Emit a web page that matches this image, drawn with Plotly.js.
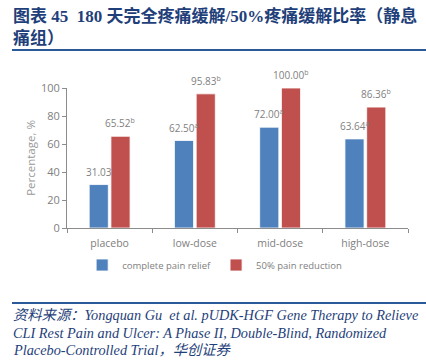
<!DOCTYPE html>
<html><head><meta charset="utf-8">
<script src="https://cdn.plot.ly/plotly-3.0.1.min.js"></script>
<style>html,body{margin:0;padding:0;background:#fff}#c{width:426px;height:364px}</style>
</head><body><div id="c"></div>
<script>
var categories = ['placebo', 'low-dose', 'mid-dose', 'high-dose'];
var completeRelief = [31.03, 62.50, 72.00, 63.64];
var completeSup = ['', 'a', 'a', 'a'];
var halfReduction = [65.52, 95.83, 100.00, 86.36];
var halfSup = ['b', 'b', 'b', 'b'];
var seriesNames = ['complete pain relief', '50% pain reduction'];
var yTicks = [0, 20, 40, 60, 80, 100];
var titleLines = ['<b>图表 45  180 天完全疼痛缓解/50%疼痛缓解比率（静息</b>', '<b>痛组）</b>'];
var sourceLines = ['<i>资料来源：Yongquan Gu  et al. pUDK-HGF Gene Therapy to Relieve</i>',
                   '<i>CLI Rest Pain and Ulcer: A Phase II, Double-Blind, Randomized</i>',
                   '<i>Placebo-Controlled Trial，华创证券</i>'];

function lbl(v, s) {
  return v.toFixed(2) + (s ? '<sup>' + s + '</sup>' : '');
}
var gray = '#808080';
var lblFont = {color: '#7f7f7f', size: 10, family: 'Open Sans, sans-serif'};
var traces = [
  {type: 'bar', name: seriesNames[0], x: categories, y: completeRelief,
   marker: {color: '#4F81BD', line: {color: '#ffffff', width: 0.8}}},
  {type: 'bar', name: seriesNames[1], x: categories, y: halfReduction,
   marker: {color: '#C0504D', line: {color: '#ffffff', width: 0.8}}}
];
var navy = '#1F3F7A';
var titleFont = {family: 'Liberation Serif, Noto Sans CJK SC, serif', size: 17, color: navy};
var srcFont = {family: 'Liberation Serif, Noto Sans CJK SC, serif', size: 14.3, color: navy};
var plotW = 341, bargap = 0.49;
var barShift = (plotW / categories.length) * (1 - bargap) / 4;
function py(p) { return (228 - p) / 140; }
var annotations = [];
categories.forEach(function (c, i) {
  annotations.push({x: c, y: completeRelief[i], xref: 'x', yref: 'y', xshift: -barShift, yshift: 4,
    yanchor: 'bottom', showarrow: false, font: lblFont, text: lbl(completeRelief[i], completeSup[i])});
  annotations.push({x: c, y: halfReduction[i], xref: 'x', yref: 'y', xshift: barShift, yshift: 4,
    yanchor: 'bottom', showarrow: false, font: lblFont, text: lbl(halfReduction[i], halfSup[i])});
});
titleLines.forEach(function (t, i) {
  annotations.push({xref: 'paper', yref: 'paper', x: -56/341, y: py([16, 38][i]), xanchor: 'left', yanchor: 'middle',
    showarrow: false, font: titleFont, text: t});
});
sourceLines.forEach(function (t, i) {
  annotations.push({xref: 'paper', yref: 'paper', x: -56/341, y: py([315, 332.5, 350][i]), xanchor: 'left', yanchor: 'middle',
    showarrow: false, font: srcFont, text: t});
});
var layout = {
  width: 426, height: 364,
  margin: {l: 67, r: 18, t: 88, b: 136},
  paper_bgcolor: '#fff', plot_bgcolor: '#fff',
  barmode: 'group', bargap: bargap, bargroupgap: 0.12,
  showlegend: true,
  legend: {orientation: 'h', x: 0.433, xanchor: 'center', y: py(265), yanchor: 'middle',
           font: {size: 9.5, color: gray, family: 'Open Sans, sans-serif'}, itemwidth: 30, traceorder: 'normal'},
  xaxis: {showline: true, linecolor: '#8c8c8c', linewidth: 1, ticks: 'outside', tickson: 'boundaries',
          ticklen: 4, tickcolor: '#8c8c8c', ticklabelstandoff: 5,
          tickfont: {size: 10.5, color: gray, family: 'Open Sans, sans-serif'},
          showgrid: false, zeroline: false},
  yaxis: {range: [0, 100], tickvals: yTicks, showline: true, linecolor: '#8c8c8c', linewidth: 1,
          ticks: 'outside', ticklen: 4, tickcolor: '#8c8c8c', showgrid: false, zeroline: false,
          tickfont: {size: 11, color: gray, family: 'Open Sans, sans-serif'},
          title: {text: 'Percentage, %', font: {size: 11.5, color: '#999999', family: 'Open Sans, sans-serif'}, standoff: 2}},
  annotations: annotations,
  shapes: [
    {type: 'line', xref: 'paper', yref: 'paper', x0: -55/341, x1: 359/341, y0: py(50), y1: py(50),
     line: {color: '#2A5A9A', width: 2}},
    {type: 'line', xref: 'paper', yref: 'paper', x0: -55/341, x1: 359/341, y0: py(303), y1: py(303),
     line: {color: '#2A5A9A', width: 2}}
  ]
};
Plotly.newPlot('c', traces, layout, {displayModeBar: false, staticPlot: true});
</script></body></html>
